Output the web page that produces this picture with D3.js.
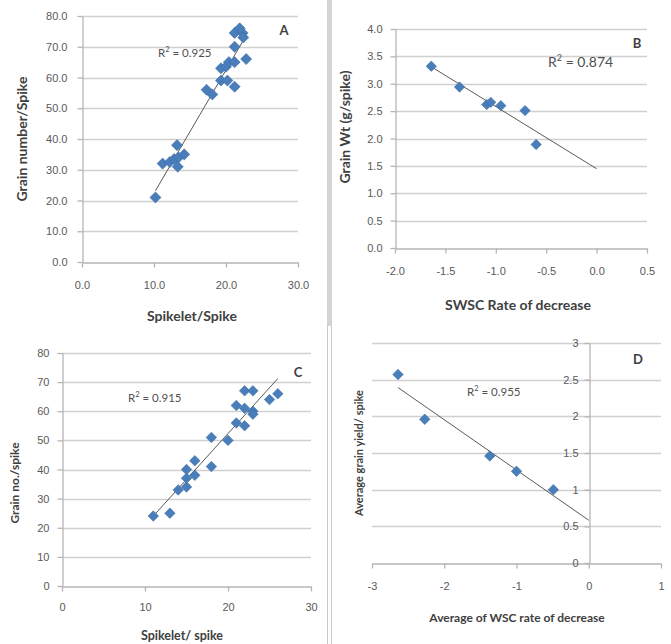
<!DOCTYPE html>
<html>
<head>
<meta charset="utf-8">
<script src="https://cdn.jsdelivr.net/npm/d3@7"></script>
<style>
  body { margin: 0; background: #fff; }
  svg { display: block; font-family: Lato, "Open Sans", sans-serif; }
  .tick text { fill: #595959; font-size: 11px; }
  .title { font-weight: bold; fill: #404040; }
</style>
</head>
<body>
<svg id="chart" width="671" height="644"></svg>
<script>
// Panel A: spikelet/spike vs grain number/spike
const aX = [10.2, 11.2, 12.2, 12.8, 13.2, 13.4, 13.3, 14.2, 17.3, 18.1, 19.3, 20.0, 19.3, 20.2, 20.4, 21.2, 21.2, 21.2, 21.2, 22.3, 21.9, 22.4, 22.8]
const aY = [21, 32, 32.5, 33.5, 38, 34, 31, 35, 56, 54.5, 63, 63.5, 59, 59, 65, 65, 57, 70, 74.5, 74.5, 76, 73, 66]
const aTicksX = [0, 10, 20, 30]
const aTicksY = [0, 10, 20, 30, 40, 50, 60, 70, 80]

// Panel B: SWSC rate of decrease vs grain wt
const bX = [-1.64, -1.36, -1.09, -1.05, -0.95, -0.71, -0.60]
const bY = [3.32, 2.94, 2.62, 2.66, 2.60, 2.51, 1.89]
const bTicksX = [-2, -1.5, -1, -0.5, 0, 0.5]
const bTicksY = [0, 0.5, 1, 1.5, 2, 2.5, 3, 3.5, 4]

// Panel C: spikelet/spike vs grain no./spike
const cX = [11, 13, 14, 15, 15, 15, 16, 16, 18, 18, 20, 21, 21, 22, 23, 22, 22, 23, 23, 25, 26]
const cY = [24, 25, 33, 34, 40, 37, 38, 43, 41, 51, 50, 56, 62, 67, 67, 61, 55, 60, 59, 64, 66]
const cTicksX = [0, 10, 20, 30]
const cTicksY = [0, 10, 20, 30, 40, 50, 60, 70, 80]

// Panel D: average WSC rate of decrease vs average grain yield/spike
const dX = [-2.64, -2.27, -1.37, -1.0, -0.49]
const dY = [2.57, 1.96, 1.46, 1.25, 1.0]
const dTicksX = [-3, -2, -1, 0, 1]
const dTicksY = [0, 0.5, 1, 1.5, 2, 2.5, 3]

const svg = d3.select('#chart')

// divider between the columns
svg.append('rect').attr('x', 327).attr('y', 0).attr('width', 5).attr('height', 326).attr('fill', '#d4d4d4')
svg.append('line').attr('x1', 327.5).attr('x2', 327.5).attr('y1', 326).attr('y2', 644).attr('stroke', '#c8c8c8')
svg.append('line').attr('x1', 331.5).attr('x2', 331.5).attr('y1', 326).attr('y2', 644).attr('stroke', '#c8c8c8')

const fit = (xs, ys) => {
  const mx = d3.mean(xs), my = d3.mean(ys)
  const slope = d3.sum(xs, (v, i) => (v - mx) * (ys[i] - my)) / d3.sum(xs, (v) => (v - mx) ** 2)
  return (v) => my + slope * (v - mx)
}

const drawPanel = (p) => {
  const g = svg.append('g')
  const x = d3.scaleLinear().domain(d3.extent(p.ticksX)).range([p.left, p.right])
  const y = d3.scaleLinear().domain(d3.extent(p.ticksY)).range([p.bottom, p.top])
  const xAt = p.xAxisAt === undefined ? p.bottom : y(p.xAxisAt)
  const yAt = p.yAxisAt === undefined ? p.left : x(p.yAxisAt)

  // gridlines
  g.selectAll('line.grid')
    .data(p.ticksY.filter((t) => y(t) !== xAt))
    .join('line')
    .attr('class', 'grid')
    .attr('x1', p.left).attr('x2', p.right)
    .attr('y1', (d) => Math.round(y(d)) + 0.5).attr('y2', (d) => Math.round(y(d)) + 0.5)
    .attr('stroke', '#d0d0d0').attr('stroke-width', 1.3)

  const xAxis = g.append('g')
    .attr('transform', `translate(0,${Math.round(xAt) + 0.5})`)
    .call(d3.axisBottom(x).tickValues(p.ticksX).tickFormat(p.fmtX)
      .tickSize(5).tickSizeOuter(0).tickPadding(p.padX))
  const yAxis = g.append('g')
    .attr('transform', `translate(${Math.round(yAt) + 0.5},0)`)
    .call(d3.axisLeft(y).tickValues(p.ticksY).tickFormat(p.fmtY)
      .tickSize(5).tickSizeOuter(0).tickPadding(p.padY))
  ;[xAxis, yAxis].forEach((a) => {
    a.select('.domain').attr('stroke', '#b5b5b5').attr('stroke-width', 1.3)
    a.selectAll('.tick line').attr('stroke', '#b5b5b5').attr('stroke-width', 1.3)
    a.selectAll('.tick text').style('font-size', p.tickFont + 'px')
  })

  // trend line
  const f = fit(p.xs, p.ys)
  const ext = [d3.min(p.xs), p.trendTo === undefined ? d3.max(p.xs) : p.trendTo]
  g.append('path')
    .attr('d', d3.line()(ext.map((v) => [x(v), y(f(v))])))
    .attr('stroke', '#5a5a5a').attr('stroke-width', 1).attr('fill', 'none')

  // markers
  const diamond = d3.symbol().type(d3.symbolDiamond2).size(p.marker)
  g.selectAll('path.pt')
    .data(p.xs.map((v, i) => [v, p.ys[i]]))
    .join('path')
    .attr('class', 'pt')
    .attr('d', diamond)
    .attr('transform', (d) => `translate(${x(d[0])},${y(d[1])})`)
    .attr('fill', '#4a7ebb').attr('stroke', '#3d6da5').attr('stroke-width', 0.6)

  // labels
  g.append('text').attr('class', 'title')
    .attr('x', p.letter[0]).attr('y', p.letter[1])
    .attr('text-anchor', 'middle').style('font-size', '13px').text(p.name)
  const r2 = g.append('text').attr('x', p.r2[0]).attr('y', p.r2[1])
    .style('font-size', p.r2Font + 'px').attr('fill', '#505050')
  r2.append('tspan').text('R')
  r2.append('tspan').attr('dy', -p.r2Font * 0.4).style('font-size', p.r2Font * 0.65 + 'px').text('2')
  r2.append('tspan').attr('dy', p.r2Font * 0.4).text(' = ' + p.r2Text)

  g.append('text').attr('class', 'title')
    .attr('x', p.xTitle[0]).attr('y', p.xTitle[1])
    .attr('text-anchor', 'middle').style('font-size', p.xTitle[2] + 'px').text(p.xLabel)
  g.append('text').attr('class', 'title')
    .attr('transform', `translate(${p.yTitle[0]},${p.yTitle[1]}) rotate(-90)`)
    .attr('text-anchor', 'middle').style('font-size', p.yTitle[2] + 'px').text(p.yLabel)
}

drawPanel({
  name: 'A', xs: aX, ys: aY, ticksX: aTicksX, ticksY: aTicksY,
  left: 82, right: 298, top: 16, bottom: 262,
  fmtX: (d) => d.toFixed(1), fmtY: (d) => d.toFixed(1), padX: 14, padY: 10, tickFont: 11,
  marker: 78, r2Text: '0.925', r2: [158, 57], r2Font: 11.5, letter: [284, 35],
  xLabel: 'Spikelet/Spike', xTitle: [192, 321, 14],
  yLabel: 'Grain number/Spike', yTitle: [27, 139, 14],
})

drawPanel({
  name: 'B', xs: bX, ys: bY, ticksX: bTicksX, ticksY: bTicksY,
  left: 395, right: 647, top: 29, bottom: 248, trendTo: 0,
  fmtX: (d) => d.toFixed(1), fmtY: (d) => d.toFixed(1), padX: 14, padY: 8, tickFont: 11,
  marker: 68, r2Text: '0.874', r2: [548, 67], r2Font: 14, letter: [637, 48],
  xLabel: 'SWSC Rate of decrease', xTitle: [518, 310, 14],
  yLabel: 'Grain Wt (g/spike)', yTitle: [350, 127, 14],
})

drawPanel({
  name: 'C', xs: cX, ys: cY, ticksX: cTicksX, ticksY: cTicksY,
  left: 62, right: 311, top: 353, bottom: 586,
  fmtX: (d) => String(d), fmtY: (d) => String(d), padX: 12, padY: 8, tickFont: 11,
  marker: 70, r2Text: '0.915', r2: [128, 402], r2Font: 11.5, letter: [298, 377],
  xLabel: 'Spikelet/ spike', xTitle: [182, 640, 12.5],
  yLabel: 'Grain no./spike', yTitle: [19, 483, 12],
})

drawPanel({
  name: 'D', xs: dX, ys: dY, ticksX: dTicksX, ticksY: dTicksY,
  left: 372, right: 661, top: 343, bottom: 563, xAxisAt: 0, yAxisAt: 0, trendTo: 0,
  fmtX: (d) => String(d), fmtY: (d) => String(d), padX: 14, padY: 6, tickFont: 11,
  marker: 70, r2Text: '0.955', r2: [467, 396], r2Font: 11.5, letter: [638, 364],
  xLabel: 'Average of WSC rate of decrease', xTitle: [517, 622, 12],
  yLabel: 'Average grain yield/ spike', yTitle: [363, 453, 11],
})
</script>
</body>
</html>
